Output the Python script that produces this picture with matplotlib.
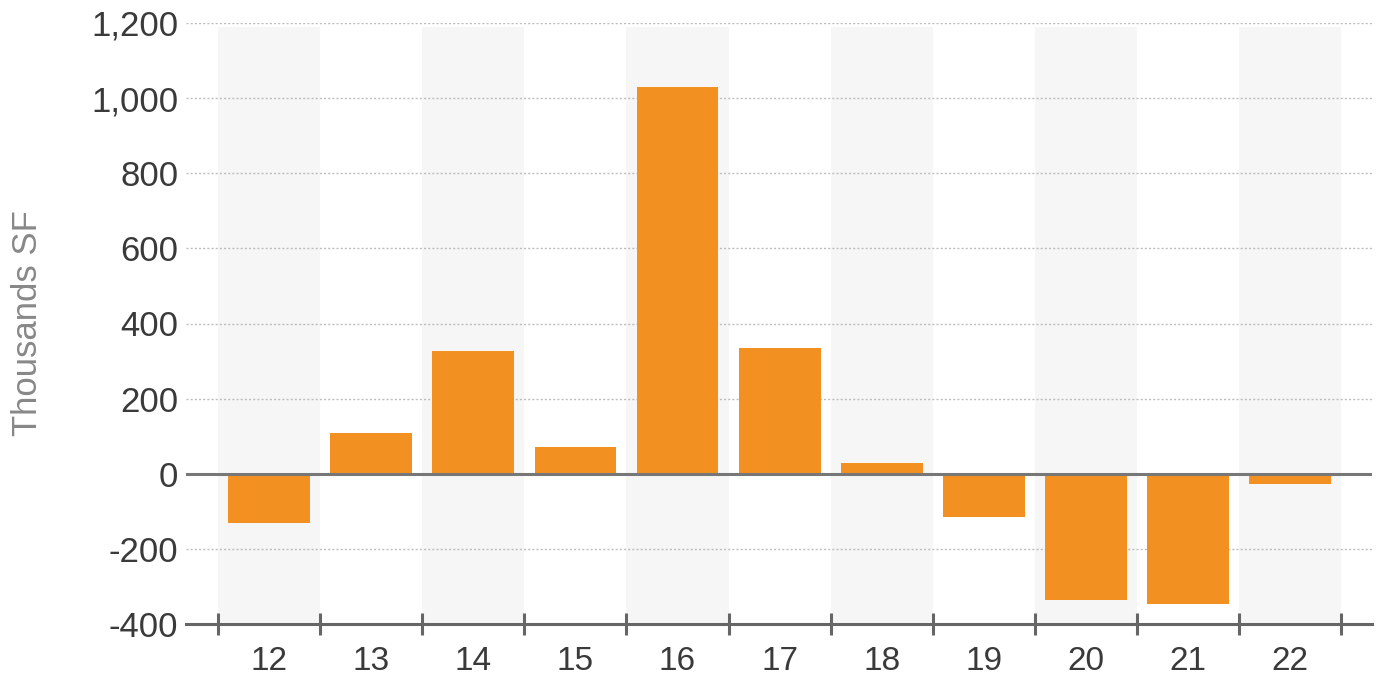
import matplotlib
matplotlib.use("Agg")
import matplotlib.pyplot as plt
import numpy as np

# Net absorption by year (thousands SF)
YEARS = ["12", "13", "14", "15", "16", "17", "18", "19", "20", "21", "22"]
VALUES = [-130, 109, 327, 72, 1030, 335, 29, -114, -335, -346, -27]

Y_TICKS = [-400, -200, 0, 200, 400, 600, 800, 1000, 1200]

BAR_COLOR = "#F39022"
BAND_COLOR = "#F6F6F6"
AXIS_COLOR = "#666666"
TEXT_COLOR = "#3a3a3a"

plt.rcParams["font.family"] = ["Liberation Sans", "DejaVu Sans"]


def main():
    fig = plt.figure(figsize=(13.83, 6.8), dpi=100)
    ax = fig.add_axes([186 / 1383, 1 - 624 / 680, (1372 - 186) / 1383, (624 - 23) / 680])

    x = np.arange(len(YEARS))

    # alternating background bands
    for i in x[::2]:
        ax.axvspan(i - 0.5, i + 0.5, ymin=0, ymax=0.993, color=BAND_COLOR, zorder=0, lw=0)

    for yt in Y_TICKS[1:]:
        if yt == 0:
            continue
        ax.axhline(yt, color="#bdbdbd", lw=1, ls=(0, (1.5, 1.5)), zorder=1)

    ax.bar(x, VALUES, width=0.8, color=BAR_COLOR, zorder=2)
    ax.axhline(0, color="#777777", lw=2.2, zorder=3)

    ax.set_xlim(-0.813, 10.80)
    ax.set_ylim(-400, 1200)

    ax.set_yticks(Y_TICKS)
    ax.set_yticklabels([f"{v:,}" for v in Y_TICKS])
    ax.tick_params(axis="y", length=0, pad=5.5, labelsize=25, labelcolor=TEXT_COLOR)

    ax.set_xticks(x)
    ax.set_xticklabels(YEARS)
    ax.set_xticks(np.arange(-0.5, len(YEARS)), minor=True)
    ax.tick_params(axis="x", which="major", length=0, pad=16, labelsize=24,
                   labelcolor=TEXT_COLOR)
    ax.tick_params(axis="x", which="minor", direction="inout", length=16,
                   width=2.2, color=AXIS_COLOR)

    for side in ["top", "right", "left"]:
        ax.spines[side].set_visible(False)
    ax.spines["bottom"].set_color(AXIS_COLOR)
    ax.spines["bottom"].set_linewidth(2.2)
    ax.spines["bottom"].set_zorder(4)

    ax.set_ylabel("Thousands SF", fontsize=25, color="#888888")
    ax.yaxis.set_label_coords((44 - 186) / 1186, 0.5)

    fig.savefig("out.png", dpi=100)
    plt.close(fig)


if __name__ == "__main__":
    main()
